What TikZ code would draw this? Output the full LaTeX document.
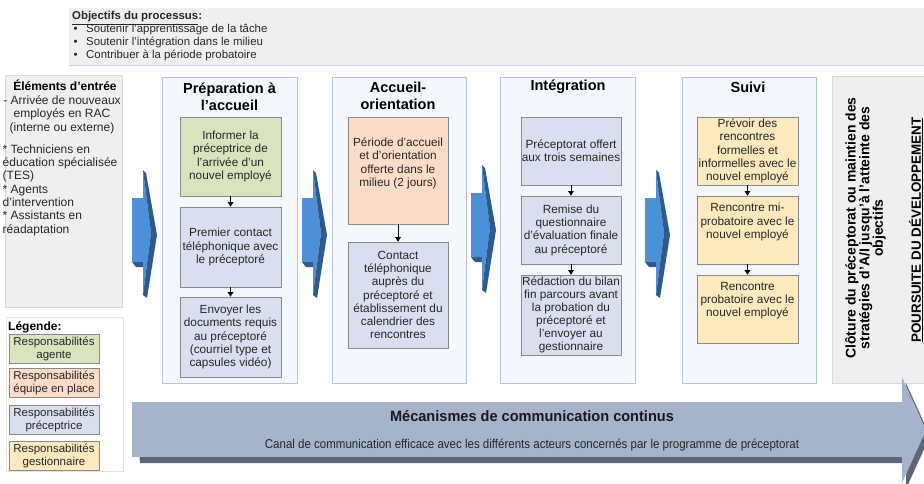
\documentclass[tikz,border=0pt]{standalone}
\usepackage{fontspec}
\setmainfont{Liberation Sans}
\usetikzlibrary{arrows.meta}

\definecolor{txt}{HTML}{262626}
\definecolor{greybg}{HTML}{EFEFEF}
\definecolor{greyline}{HTML}{D9D9D9}
\definecolor{panelbg}{HTML}{F4F7FB}
\definecolor{panelline}{HTML}{B7C5DA}
\definecolor{boxline}{HTML}{8A8A8A}
\definecolor{cgreen}{HTML}{D8E4BE}
\definecolor{corange}{HTML}{FADCC8}
\definecolor{cblue}{HTML}{D9DFEF}
\definecolor{cyellow}{HTML}{FCE9BE}
\definecolor{chevlight}{HTML}{4C91D7}
\definecolor{chevdark}{HTML}{2E5A8C}
\definecolor{barbody}{HTML}{A6B4CB}
\definecolor{barshadow}{HTML}{5E6676}

\tikzset{
  bx/.style={draw=boxline, line width=0.6pt, align=center, inner sep=0.5pt,
    font=\fontsize{11.8}{13.3}\selectfont, text=txt},
  bxtext/.style={align=center, inner sep=0pt, font=\fontsize{11.8}{13.3}\selectfont, text=txt},
  panel/.style={draw=panelline, fill=panelbg, line width=0.6pt},
  ttl/.style={align=center, inner sep=0pt, font=\fontsize{14.5}{16.5}\selectfont\bfseries},
  flow/.style={-{Triangle[width=5.5pt,length=4.5pt]}, line width=0.8pt, black},
  legbox/.style={draw=boxline, line width=0.6pt, align=center, inner sep=0pt,
    minimum width=90, minimum height=29, font=\fontsize{11.5}{13}\selectfont, text=txt},
}

\begin{document}
\begin{tikzpicture}[x=1pt,y=-1pt]
\useasboundingbox (0,0) rectangle (924,483);
\fill[white] (0,0) rectangle (924,483);

% objectives of the process
\node[fill=greybg, minimum width=870, minimum height=57,
  anchor=north west, inner sep=0pt] (obj) at (69,8) {};
\draw[panelline!70, line width=0.6pt] (obj.south west) -- (obj.south east);
\node[anchor=north west, align=left, inner sep=0pt, text=txt,
  font=\fontsize{11.4}{12.8}\selectfont] (objt) at (72,11.5)
  {\textbf{\underline{Objectifs du processus}:}\\
   \makebox[14pt][l]{\hspace{1.5pt}•}Soutenir l’apprentissage de la tâche\\
   \makebox[14pt][l]{\hspace{1.5pt}•}Soutenir l’intégration dans le milieu\\
   \makebox[14pt][l]{\hspace{1.5pt}•}Contribuer à la période probatoire};

% input elements
\node[draw=greyline, fill=greybg, line width=0.5pt, minimum width=117, minimum height=232,
  anchor=north west, inner sep=0pt] (inbox) at (5,75) {};
\node[inner sep=0pt, font=\fontsize{12}{13}\selectfont\bfseries] (intitle) at (65,85) {Éléments d’entrée};
\node[align=center, inner sep=0pt, text=txt, font=\fontsize{12}{13.5}\selectfont] (ingr1) at (62,114.5)
  {- Arrivée de nouveaux\\employés en RAC\\(interne ou externe)};
\node[anchor=west, align=left, inner sep=0pt, text=txt, font=\fontsize{12}{13.3}\selectfont] (ingr2) at (2.5,190)
  {* Techniciens en\\éducation spécialisée\\(TES)\\* Agents\\d’intervention\\* Assistants en\\réadaptation};

% legend
\node[draw=greyline!70, fill=white, line width=0.5pt, minimum width=117, minimum height=154,
  anchor=north west, inner sep=0pt] (legframe) at (6,317) {};
\node[anchor=west, inner sep=0pt, font=\fontsize{12}{13}\selectfont\bfseries] (legtitle) at (8,327.5) {Légende:};
\node[legbox, fill=cgreen] (leg1) at (54,348.5) {Responsabilités\\agente};
\node[legbox, fill=corange] (leg2) at (54,382.5) {Responsabilités\\équipe en place};
\node[legbox, fill=cblue] (leg3) at (54,419.5) {Responsabilités\\préceptrice};
\node[legbox, fill=cyellow] (leg4) at (54,456) {Responsabilités\\gestionnaire};

% phase panels
\node[panel, minimum width=135, minimum height=306, inner sep=0pt] (p1) at (229.5,230) {};
\node[panel, minimum width=134, minimum height=306, inner sep=0pt] (p2) at (399,230) {};
\node[panel, minimum width=135, minimum height=306, inner sep=0pt] (p3) at (567.5,230) {};
\node[panel, minimum width=134, minimum height=306, inner sep=0pt] (p4) at (749,230) {};

\node[ttl] (t1) at (229.5,96.5) {Préparation à\\l’accueil};
\node[ttl] (t2) at (398,96) {Accueil-\\orientation};
\node[ttl] (t3) at (568,87) {Intégration};
\node[ttl] (t4) at (748,87) {Suivi};

% phase 1
\node[bx, fill=cgreen, minimum width=101, minimum height=79] (a1) at (230.5,156.5)
  {Informer la\\préceptrice de\\l’arrivée d’un\\nouvel employé};
\node[bx, fill=cblue, minimum width=101, minimum height=80] (a2) at (230.5,247)
  {Premier contact\\téléphonique avec\\le préceptoré};
\node[bx, fill=cblue, minimum width=101, minimum height=80] (a3) at (230.5,337)
  {Envoyer les\\documents requis\\au préceptoré\\(courriel type et\\capsules vidéo)};
\draw[flow] (a1) -- (a2);
\draw[flow] (a2) -- (a3);

% phase 2
\node[bx, fill=corange, minimum width=100, minimum height=107] (b1) at (398,170.5) {};
\node[bxtext] (b1t) at (398,163.5)
  {Période d’accueil\\et d’orientation\\offerte dans le\\milieu (2 jours)};
\node[bx, fill=cblue, minimum width=100, minimum height=106] (b2) at (398,295)
  {Contact\\téléphonique\\auprès du\\préceptoré et\\établissement du\\calendrier des\\rencontres};
\draw[flow] (b1) -- (b2);

% phase 3
\node[bx, fill=cblue, minimum width=100, minimum height=68] (c1) at (571,151)
  {Préceptorat offert\\aux trois semaines};
\node[bx, fill=cblue, minimum width=100, minimum height=68] (c2) at (571,230)
  {Remise du\\questionnaire\\d’évaluation finale\\au préceptoré};
\node[bx, fill=cblue, minimum width=100, minimum height=80, font=\fontsize{11.8}{13.1}\selectfont] (c3) at (571,315)
  {Rédaction du bilan\\fin parcours avant\\la probation du\\préceptoré et\\l’envoyer au\\gestionnaire};
\draw[flow] (c1) -- (c2);
\draw[flow] (c2) -- (c3);

% phase 4
\node[bx, fill=cyellow, minimum width=101, minimum height=68] (d1) at (747.5,151)
  {Prévoir des\\rencontres\\formelles et\\informelles avec le\\nouvel employé};
\node[bx, fill=cyellow, minimum width=101, minimum height=68] (d2) at (747.5,230) {};
\node[bxtext] (d2t) at (747.5,222) {Rencontre mi-\\probatoire avec le\\nouvel employé};
\node[bx, fill=cyellow, minimum width=101, minimum height=68] (d3) at (747.5,309) {};
\node[bxtext] (d3t) at (747.5,300.5) {Rencontre\\probatoire avec le\\nouvel employé};
\draw[flow] (d1) -- (d2);
\draw[flow] (d2) -- (d3);

% closing panel
\node[draw=greyline, fill=greybg, line width=0.5pt, minimum width=100, minimum height=307,
  anchor=north west, inner sep=0pt] (endbox) at (832,76) {};
\node[rotate=90, align=center, inner sep=0pt, font=\fontsize{14}{13.7}\selectfont\bfseries] (endt) at (865.5,228)
  {Clôture du préceptorat ou maintien des\\stratégies d’A/I jusqu’à l’atteinte des\\objectifs};
\node[rotate=90, inner sep=0pt, font=\fontsize{13.4}{14}\selectfont\bfseries] (endp) at (916,230)
  {\underline{POURSUITE DU DÉVELOPPEMENT}};

% 3D chevrons between the stages
\foreach \cx/\cy in {132/233, 302/233, 471/228, 645/233}{
  \begin{scope}[shift={(\cx,\cy)}]
    \fill[chevdark] (0,29) -- (11,29) -- (11,34) -- (4,34) -- cycle;
    \fill[chevlight] (0,-35) -- (11,-35) -- (11,-63) -- (19,0) -- (11,62) -- (11,29) -- (0,29) -- cycle;
    \fill[chevdark] (11,-63) -- (14,-60) -- (25,2) -- (15,65) -- (11,62) -- (19,0) -- cycle;
  \end{scope}
}

% continuous communication bar
\fill[barshadow] (136,408) -- (906,408) -- (906,383) -- (930,436) -- (906,489) -- (906,463) -- (140,463) -- cycle;
\node[fill=barbody, minimum width=770, minimum height=55, anchor=north west, inner sep=0pt] (bar) at (132,402) {};
\fill[barbody] (901,402) -- (902,402) -- (902,377) -- (926,430) -- (902,483) -- (902,457) -- (901,457) -- cycle;
\node[inner sep=0pt, font=\fontsize{15}{17}\selectfont\bfseries, text=black!90] (barttl) at (532,416)
  {\scalebox{0.97}[1]{Mécanismes de communication continus}};
\node[inner sep=0pt, font=\fontsize{12.8}{14}\selectfont, text=txt] (bartxt) at (532,445)
  {\scalebox{0.9}[1]{Canal de communication efficace avec les différents acteurs concernés par le programme de préceptorat}};
\end{tikzpicture}
\end{document}
